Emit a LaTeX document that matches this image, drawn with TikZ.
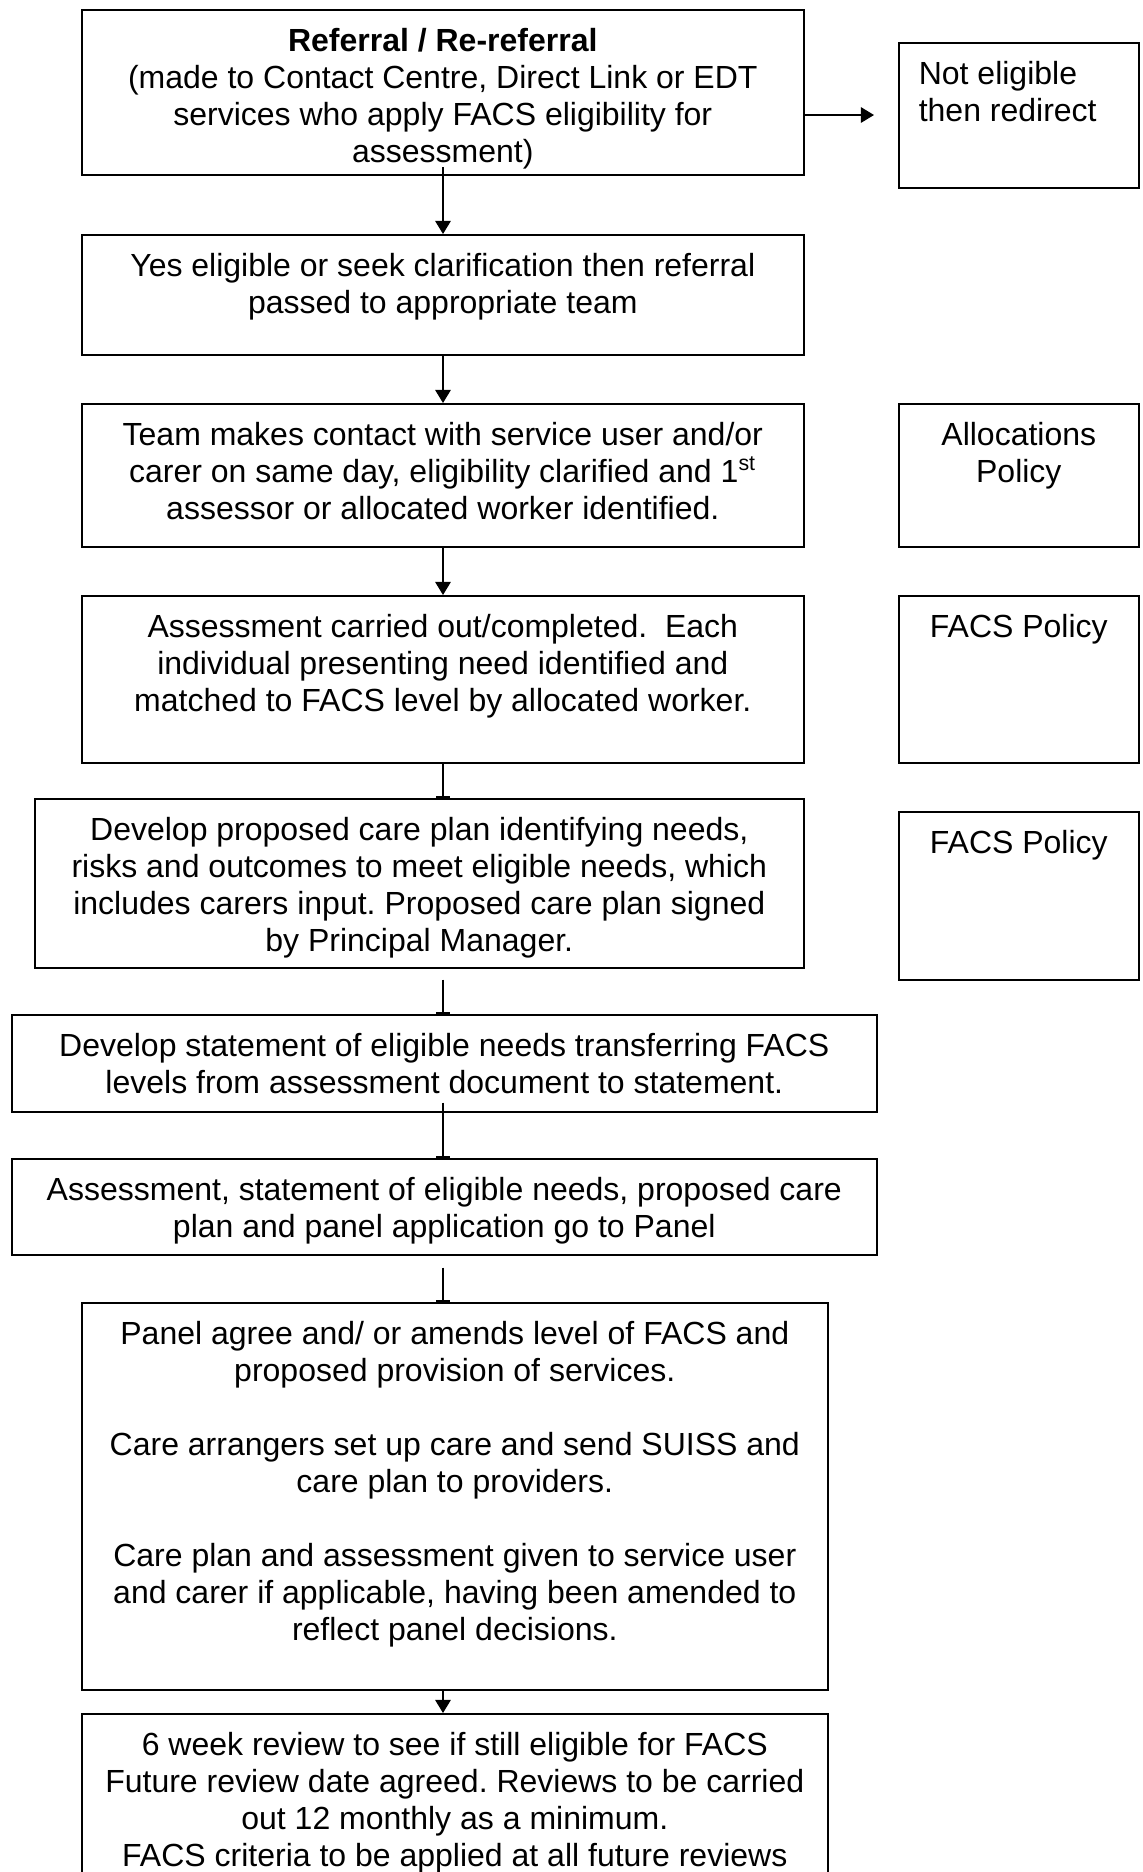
\documentclass[tikz,border=0pt]{standalone}
\usepackage{fontspec}
\setmainfont{Liberation Sans}
\usetikzlibrary{arrows.meta}
\newdimen\pxu
\pxu=0.375pt
\newcommand{\bx}[3]{\parbox[c][#2\pxu][t]{#1\pxu}{\frenchspacing\centering\rule{0pt}{41.5\pxu}#3}}
\newcommand{\bxl}[3]{\parbox[c][#2\pxu][t]{#1\pxu}{\frenchspacing\raggedright\leftskip=20\pxu\rule{0pt}{41.5\pxu}#3}}
\begin{document}
\begin{tikzpicture}[x=0.375pt, y=-0.375pt,
  box/.style={draw, line width=0.6pt, inner sep=0pt, anchor=north west,
    font=\fontsize{12pt}{13.9pt}\selectfont},
  arr/.style={line width=0.55pt, -{Triangle[length=4.9pt, width=5.8pt]}},
  stub/.style={line width=0.55pt, -{Rectangle[length=0.9pt, width=5.2pt]}}]
\useasboundingbox (0,0) rectangle (1143,1872);
% main column
\node[box] (b1) at (81,9) {\bx{722}{165}{\textbf{Referral / Re-referral}\\(made to Contact Centre, Direct Link or EDT\\services who apply FACS eligibility for\\assessment)}};
\node[box] (b2) at (81,234) {\bx{722}{120}{Yes eligible or seek clarification then referral\\passed to appropriate team}};
\node[box] (b3) at (81,403) {\bx{722}{143}{Team makes contact with service user and/or\\carer on same day, eligibility clarified and 1\textsuperscript{st}\\assessor or allocated worker identified.}};
\node[box] (b4) at (81,595) {\bx{722}{167}{Assessment carried out/completed.~ Each\\individual presenting need identified and\\matched to FACS level by allocated worker.}};
\node[box] (b5) at (34,798) {\bx{769}{169}{Develop proposed care plan identifying needs,\\risks and outcomes to meet eligible needs, which\\includes carers input. Proposed care plan signed\\by Principal Manager.}};
\node[box] (b6) at (11,1014) {\bx{865}{97}{Develop statement of eligible needs transferring FACS\\levels from assessment document to statement.}};
\node[box] (b7) at (11,1158) {\bx{865}{96}{Assessment, statement of eligible needs, proposed care\\plan and panel application go to Panel}};
\node[box] (b8) at (81,1302) {\bx{746}{387}{Panel agree and/ or amends level of FACS and\\proposed provision of services.\\[13.9pt]Care arrangers set up care and send SUISS and\\care plan to providers.\\[13.9pt]Care plan and assessment given to service user\\and carer if applicable, having been amended to\\reflect panel decisions.}};
\node[box] (b9) at (81,1713) {\bx{746}{200}{6 week review to see if still eligible for FACS\\Future review date agreed. Reviews to be carried\\out 12 monthly as a minimum.\\FACS criteria to be applied at all future reviews}};
% side boxes
\node[box] (ne) at (898,42) {\bxl{240}{145}{Not eligible\\then redirect}};
\node[box] (al) at (898,403) {\bx{240}{143}{Allocations\\Policy}};
\node[box] (fp1) at (898,595) {\bx{240}{167}{FACS Policy}};
\node[box] (fp2) at (898,811) {\bx{240}{168}{FACS Policy}};
% connectors
\coordinate (ax) at (443,0);
\coordinate (hy) at (0,115);
\draw[arr, shorten <=-3.2pt] (b1.south -| ax) -- (b2.north -| ax);
\draw[arr] (b2.south -| ax) -- (b3.north -| ax);
\draw[arr] (b3.south -| ax) -- (b4.north -| ax);
\draw[stub] (b4.south -| ax) -- (b5.north -| ax);
\draw[stub, shorten <=4.1pt] (b5.south -| ax) -- (b6.north -| ax);
\draw[stub, shorten <=-3.75pt] (b6.south -| ax) -- (b7.north -| ax);
\draw[stub, shorten <=4.5pt] (b7.south -| ax) -- (b8.north -| ax);
\draw[arr] (b8.south -| ax) -- (b9.north -| ax);
\draw[arr, shorten >=9pt] (b1.east |- hy) -- (ne.west |- hy);
\end{tikzpicture}
\end{document}
